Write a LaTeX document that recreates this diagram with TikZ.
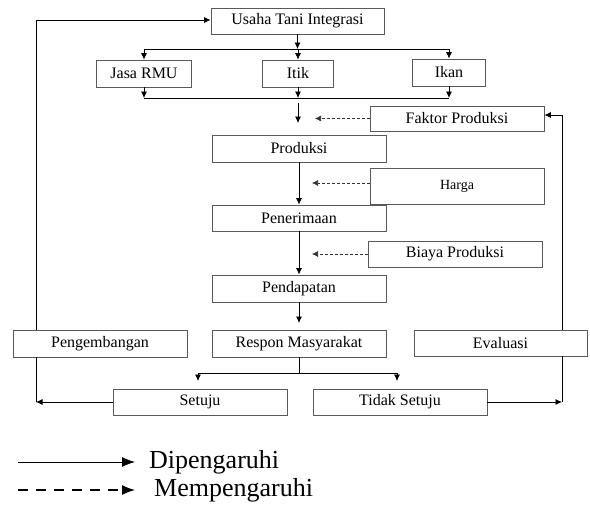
\documentclass[tikz,border=0pt]{standalone}
\usepackage{fontspec}
\setmainfont{Liberation Serif}
\usetikzlibrary{arrows.meta}

\begin{document}
\begin{tikzpicture}[x=1pt, y=-1pt,
  kotak/.style={draw=black!65, line width=.8pt, minimum width=174pt, minimum height=26pt, inner sep=0pt, font=\fontsize{16}{18}\selectfont},
  panah/.style={-{Latex[length=6.5pt,width=6pt]}, line width=.7pt},
  putus/.style={-{Latex[length=6pt,width=6pt]}, line width=.6pt, dash pattern=on 3pt off 2pt, black!80}]
\useasboundingbox (0,0) rectangle (590,506);
% kotak
\node[kotak, minimum width=173pt] (usaha) at (297.5,21) {Usaha Tani Integrasi};
\node[kotak, minimum width=95pt, minimum height=27pt] (jasa) at (144,73.5) {Jasa RMU};
\node[kotak, minimum width=71pt, minimum height=27pt] (itik) at (298,73.5) {Itik};
\node[kotak, minimum width=73pt, minimum height=27pt] (ikan) at (449,72.5) {Ikan};
\node[kotak, minimum height=25pt] (faktor) at (457,118.5) {Faktor Produksi};
\node[kotak, minimum height=27pt] (produksi) at (299,148.5) {Produksi};
\node[kotak, minimum height=36pt, font=\fontsize{14}{16}\selectfont] (harga) at (457,186) {Harga};
\node[kotak] (penerimaan) at (299,218) {Penerimaan};
\node[kotak] (biaya) at (455,254) {Biaya Produksi};
\node[kotak, minimum height=27pt] (pendapatan) at (299,288.5) {Pendapatan};
\node[kotak, minimum height=27pt] (respon) at (299,343.5) {Respon Masyarakat};
\node[kotak, minimum height=27pt] (pengembangan) at (100,343.5) {Pengembangan};
\node[kotak, minimum width=173pt] (evaluasi) at (500.5,343) {Evaluasi};
\node[kotak] (setuju) at (200,402) {Setuju};
\node[kotak] (tidak) at (400,402) {Tidak Setuju};

% cabang atas
\coordinate (c1) at (297.5,49);
\coordinate (c2) at (297.5,98);
\draw[panah] (usaha.south) -- (c1);
\draw[line width=.7pt] (jasa.north |- c1) -- (ikan.north |- c1);
\foreach \n in {jasa, itik, ikan} {
  \draw[panah] (\n.north |- c1) -- (\n.north);
  \draw[panah] (\n.south) -- (\n.south |- c2);
}
\draw[line width=.7pt] (jasa.south |- c2) -- (ikan.south |- c2);
\coordinate (c3) at (298,103);
\coordinate (c4) at (298,123);
\draw[panah] (c3) -- (c4);

% alur tengah
\draw[panah] (produksi.south) -- (penerimaan.north);
\draw[panah] (penerimaan.south) -- (pendapatan.north);
\coordinate (c5) at (299,323);
\draw[panah] (pendapatan.south) -- (c5);

% pengaruh
\draw[putus] (faktor.west) -- (315,118.5);
\draw[putus] (harga.west |- 0,183) -- (312,183);
\draw[putus] (biaya.west) -- (312,254);

% respon
\coordinate (c6) at (299,373);
\draw[line width=.7pt] (respon.south) -- (c6);
\draw[line width=.7pt] (198,373) -- (397,373);
\draw[panah] (198,373) -- (198,381);
\draw[panah] (397,373) -- (397,381);

% umpan balik kiri
\coordinate (k1) at (36,402);
\coordinate (k2) at (36,20);
\draw[panah] (setuju.west) -- (k1);
\draw[line width=.7pt] (k1) -- (pengembangan.south -| k1);
\draw[panah] (pengembangan.north -| k1) -- (k2) -- (usaha.west |- k2);

% umpan balik kanan
\coordinate (r1) at (562,402);
\coordinate (r2) at (562,115);
\draw[panah] (tidak.east) -- (r1);
\draw[line width=.7pt] (r1) -- (evaluasi.south -| r1);
\draw[panah] (evaluasi.north -| r1) -- (r2) -- (faktor.east |- r2);

% keterangan
\draw[-{Latex[length=13pt,width=10pt]}, line width=.9pt] (18,462) coordinate (l1) -- (135,462) coordinate (l2);
\node[anchor=west, font=\fontsize{26}{28}\selectfont, inner sep=0pt] (dip) at (149,462) {Dipengaruhi};
\draw[-{Latex[length=13pt,width=10pt]}, line width=1.2pt, dash pattern=on 10pt off 8pt] (18,490) coordinate (l3) -- (135,490) coordinate (l4);
\node[anchor=west, font=\fontsize{26}{28}\selectfont, inner sep=0pt] (mem) at (154,490) {Mempengaruhi};
\end{tikzpicture}
\end{document}
